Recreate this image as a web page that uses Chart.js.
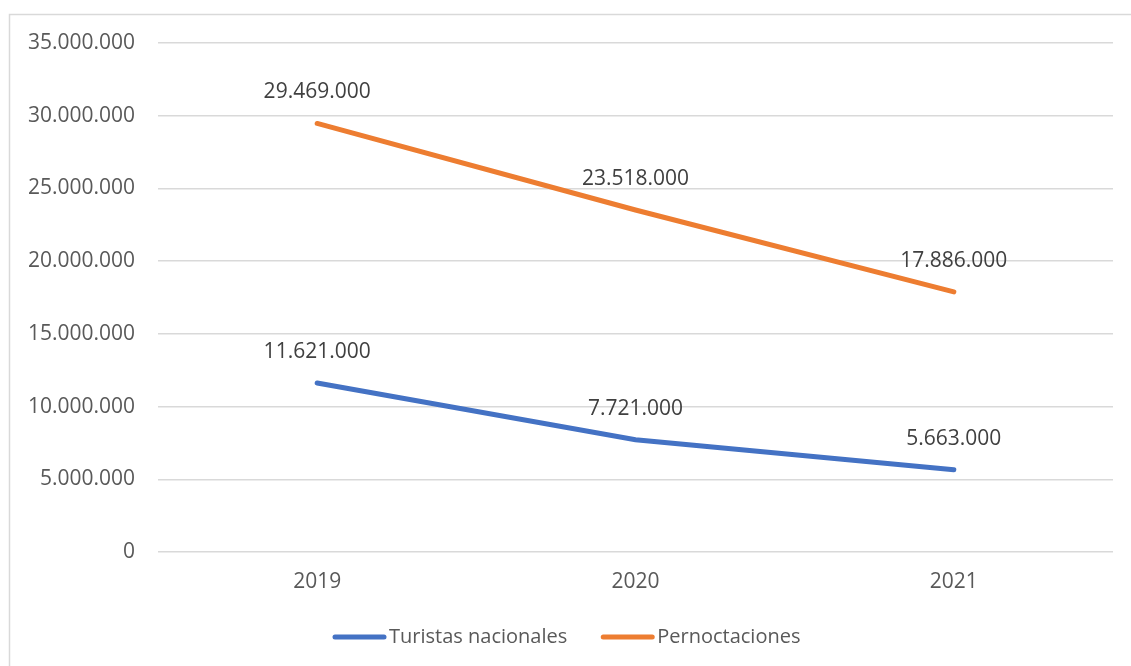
<!DOCTYPE html>
<html>
<head>
<meta charset="utf-8">
<script src="https://cdn.jsdelivr.net/npm/chart.js@4.4.0/dist/chart.umd.min.js"></script>
<style>
  html, body { margin: 0; padding: 0; background: #ffffff; }
  #wrap { width: 1131px; height: 666px; position: relative; }
</style>
</head>
<body>
<div id="wrap"><canvas id="myChart" width="1131" height="666"></canvas></div>
<script>
// datos del gráfico
const years = ['2019', '2020', '2021'];
const turistas = [11621000, 7721000, 5663000];
const pernoctaciones = [29469000, 23518000, 17886000];
const seriesNames = ['Turistas nacionales', 'Pernoctaciones'];

const FONT = '"Open Sans", "Liberation Sans", sans-serif';

function fmt(v) {
  return String(Math.round(v)).replace(/\B(?=(\d{3})+(?!\d))/g, '.');
}

// marco exterior gris
const framePlugin = {
  id: 'frame',
  beforeDraw(chart) {
    const c = chart.ctx;
    c.save();
    c.fillStyle = '#ffffff';
    c.fillRect(0, 0, chart.width, chart.height);
    c.strokeStyle = '#d9d9d9';
    c.lineWidth = 1.5;
    c.strokeRect(9.5, 14.5, chart.width + 20, chart.height + 20);
    c.restore();
  }
};

// etiquetas de valores encima de cada punto
const valueLabels = {
  id: 'valueLabels',
  afterDatasetsDraw(chart) {
    const c = chart.ctx;
    c.save();
    c.font = '21px ' + FONT;
    c.fillStyle = '#404040';
    c.textAlign = 'center';
    c.textBaseline = 'middle';
    chart.data.datasets.forEach((ds, i) => {
      chart.getDatasetMeta(i).data.forEach((pt, j) => {
        c.fillText(fmt(ds.data[j]), pt.x, pt.y - 31);
      });
    });
    c.restore();
  }
};

// leyenda abajo, estilo Excel
const bottomLegend = {
  id: 'bottomLegend',
  afterDraw(chart) {
    const c = chart.ctx;
    c.save();
    c.font = '20px ' + FONT;
    c.textBaseline = 'middle';
    const y = 637;
    const lineW = 53, gap = 3, between = 34;
    let x = 333;
    chart.data.datasets.forEach((ds, i) => {
      c.strokeStyle = ds.borderColor;
      c.lineWidth = 5;
      c.lineCap = 'round';
      c.beginPath();
      c.moveTo(x + 2, y);
      c.lineTo(x + lineW - 2, y);
      c.stroke();
      c.fillStyle = '#595959';
      c.fillText(ds.label, x + lineW + gap, y);
      x += lineW + gap + c.measureText(ds.label).width + between;
    });
    c.restore();
  }
};

let ctx = document.getElementById('myChart').getContext('2d');
let myChart = new Chart(ctx, {
  type: 'line',
  data: {
    labels: years,
    datasets: [{
      label: seriesNames[0],
      data: turistas,
      borderColor: '#4472C4',
      backgroundColor: '#4472C4',
      borderWidth: 5,
      borderCapStyle: 'round',
      pointRadius: 0,
      tension: 0
    }, {
      label: seriesNames[1],
      data: pernoctaciones,
      borderColor: '#ED7D31',
      backgroundColor: '#ED7D31',
      borderWidth: 5,
      borderCapStyle: 'round',
      pointRadius: 0,
      tension: 0
    }]
  },
  options: {
    responsive: false,
    animation: false,
    layout: { padding: { top: 43, right: 18, left: 0, bottom: 0 } },
    plugins: {
      legend: { display: false },
      title: { display: false },
      tooltip: { enabled: false }
    },
    scales: {
      x: {
        offset: true,
        grid: { display: false, drawTicks: false },
        border: { display: false },
        ticks: {
          color: '#595959',
          font: { family: FONT, size: 21 },
          padding: 17
        },
        afterFit(scale) { scale.height = 114; }
      },
      y: {
        min: 0,
        max: 35000000,
        grid: { color: '#d9d9d9', lineWidth: 1.5, drawTicks: false },
        border: { display: false },
        ticks: {
          stepSize: 5000000,
          color: '#595959',
          font: { family: FONT, size: 21 },
          padding: 23,
          callback: v => fmt(v)
        },
        afterFit(scale) { scale.width = 158; }
      }
    }
  },
  plugins: [framePlugin, valueLabels, bottomLegend]
});
</script>
</body>
</html>
